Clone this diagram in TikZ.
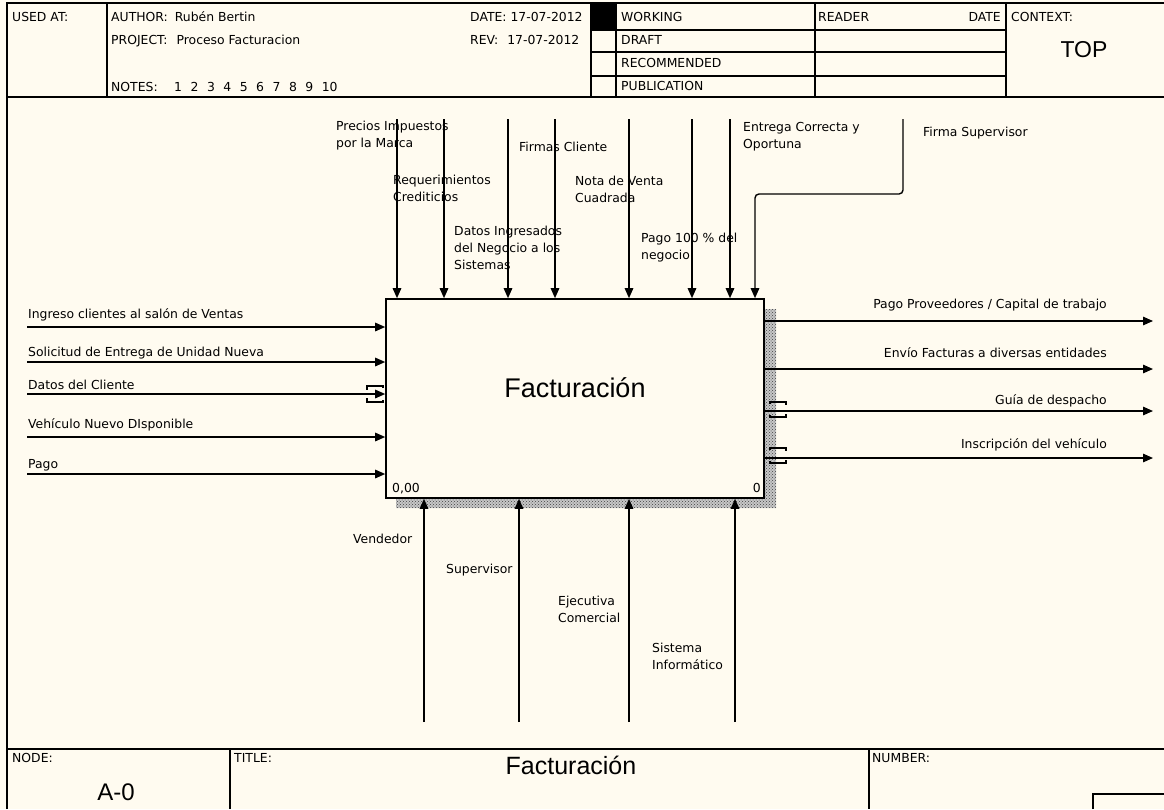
\documentclass[tikz,border=0pt]{standalone}
\usepackage{fontspec}
\setmainfont{DejaVu Sans}
\newfontfamily\arialf{Liberation Sans}
\usetikzlibrary{arrows.meta,calc,positioning,patterns}
\definecolor{paper}{RGB}{255,251,240}
\tikzset{
 flow/.style={line width=1.4pt,-{Triangle[length=10pt,width=8.5pt]}},
 frame/.style={line width=1.4pt},
 tag/.style={inner sep=0pt,anchor=base west},
 mtag/.style={inner sep=0pt,anchor=north west,align=left},
}

\begin{document}
\begin{tikzpicture}[x=1pt,y=-1pt,font=\fontsize{12.4}{17}\selectfont]
\useasboundingbox (0,0) rectangle (1164,809);
\fill[paper] (0,0) rectangle (1164,809);
% header
\fill (591,3) rectangle (616,30);
\draw[frame] (7,809)--(7,3)--(1164,3) (7,97)--(1164,97) (7,749)--(1164,749);
\foreach \x in {107,591,616,815,1006} \draw[frame] (\x,3)--(\x,97);
\foreach \y in {30,52,76} \draw[frame] (591,\y)--(1006,\y);
\node[tag] (usedat) at (12,21) {USED AT:};
\node[tag] (author) at (111,21) {AUTHOR:\hspace{7pt}Rubén Bertin};
\node[tag] (project) at (111,44) {PROJECT:\hspace{9pt}Proceso Facturacion};
\node[tag] (notes) at (111,91) {NOTES:};
\foreach \n in {1,...,10} \node[tag] (note\n) at (174+16.4*\n-16.4,91) {\n};
\node[tag] (date) at (470,21) {DATE: 17-07-2012};
\node[tag] (rev) at (470,44) {REV:\hspace{9pt}17-07-2012};
\foreach \s [count=\k] in {WORKING,DRAFT,RECOMMENDED,PUBLICATION}
 \node[tag] (status\k) at (621,21+23.3*\k-23.3) {\s};
\node[tag] (reader) at (818,21) {READER};
\node[tag,anchor=base east] (rdate) at (1001,21) {DATE};
\node[tag] (context) at (1011,21) {CONTEXT:};
\node[inner sep=0pt] (top) at (1084,50) {\arialf\fontsize{23}{23}\selectfont TOP};
% box
\fill[black!22] (764,309)--(776,309)--(776,508)--(396,508)--(396,498)--(764,498)--cycle;
\fill[pattern=crosshatch dots,pattern color=black!75] (764,309)--(776,309)--(776,508)--(396,508)--(396,498)--(764,498)--cycle;
\node[draw,line width=1.6pt,fill=paper,minimum width=378pt,minimum height=199pt,inner sep=0pt] (fact) at (575,398.5) {};
\node[inner sep=0pt] (factname) at (575,388) {\arialf\fontsize{27}{27}\selectfont Facturación};
\node[tag] (boxcost) at (392,492) {0,00};
\node[tag,anchor=base east] (boxno) at (761,492) {0};
% inputs
\foreach \y/\b/\t [count=\k] in {327/318/Ingreso clientes al salón de Ventas,362/356/Solicitud de Entrega de Unidad Nueva,394/389/Datos del Cliente,437/428/Vehículo Nuevo DIsponible,474/468/Pago}{
 \coordinate (in\k) at (27,\y);
 \node[tag] (inlbl\k) at (28,\b) {\t};
 \draw[flow] (in\k) -- (in\k -| fact.west);
}
\draw[line width=1.2pt] (383,388)--(383,386)--(367,386)--(367,390) (367,398)--(367,402)--(383,402)--(383,400);
% outputs
\foreach \y/\b/\t [count=\k] in {321/308/{Pago Proveedores / Capital de trabajo},369/357/Envío Facturas a diversas entidades,411/404/Guía de despacho,458/448/Inscripción del vehículo}{
 \coordinate (out\k) at (1153,\y);
 \node[tag,anchor=base east] (outlbl\k) at (1107,\b) {\t};
 \draw[flow] (out\k -| fact.east) -- (out\k);
}
\foreach \y in {402,448}
 \draw[line width=1.2pt] (770,\y+2)--(770,\y)--(786,\y)--(786,\y+3) (786,\y+12)--(786,\y+15)--(770,\y+15)--(770,\y+13);
% controls
\foreach \x [count=\k] in {397,444,508,555,629,692,730}{
 \coordinate (ctl\k) at (\x,119);
 \draw[flow] (ctl\k) -- (ctl\k |- fact.north);
}
\coordinate (ctl8) at (903,119);
\coordinate (bend) at (755,194);
\draw[flow,rounded corners=4pt] (ctl8) -- (ctl8 |- bend) -- (bend) -- (bend |- fact.north);
\node[mtag] (precios) at (336,121) {Precios Impuestos\\por la Marca};
\node[mtag] (reqcred) at (393,175) {Requerimientos\\Crediticios};
\node[mtag] (firmas) at (519,142) {Firmas Cliente};
\node[mtag] (datosing) at (454,226) {Datos Ingresados\\del Negocio a los\\Sistemas};
\node[mtag] (nota) at (575,176) {Nota de Venta\\Cuadrada};
\node[mtag] (pago) at (641,233) {Pago 100 \% del\\negocio};
\node[mtag] (entrega) at (743,122) {Entrega Correcta y\\Oportuna};
\node[mtag] (firmasup) at (923,127) {Firma Supervisor};
% mechanisms
\foreach \x [count=\k] in {424,519,629,735}{
 \coordinate (mec\k) at (\x,722);
 \draw[flow] (mec\k) -- (mec\k |- fact.south);
}
\node[mtag] (vendedor) at (353,534) {Vendedor};
\node[mtag] (superv) at (446,564) {Supervisor};
\node[mtag] (ejecutiva) at (558,596) {Ejecutiva\\Comercial};
\node[mtag] (sistema) at (652,643) {Sistema\\Informático};
% footer
\foreach \x in {230,869} \draw[frame] (\x,749)--(\x,809);
\draw[frame] (1093,809)--(1093,794)--(1164,794);
\node[tag] (nodelbl) at (12,762) {NODE:};
\node[inner sep=0pt] (nodeno) at (116,792) {\arialf\fontsize{24}{24}\selectfont A-0};
\node[tag] (titlelbl) at (234,762) {TITLE:};
\node[inner sep=0pt] (title) at (571,765) {\arialf\fontsize{25}{25}\selectfont Facturación};
\node[tag] (numberlbl) at (872,762) {NUMBER:};
\end{tikzpicture}
\end{document}
